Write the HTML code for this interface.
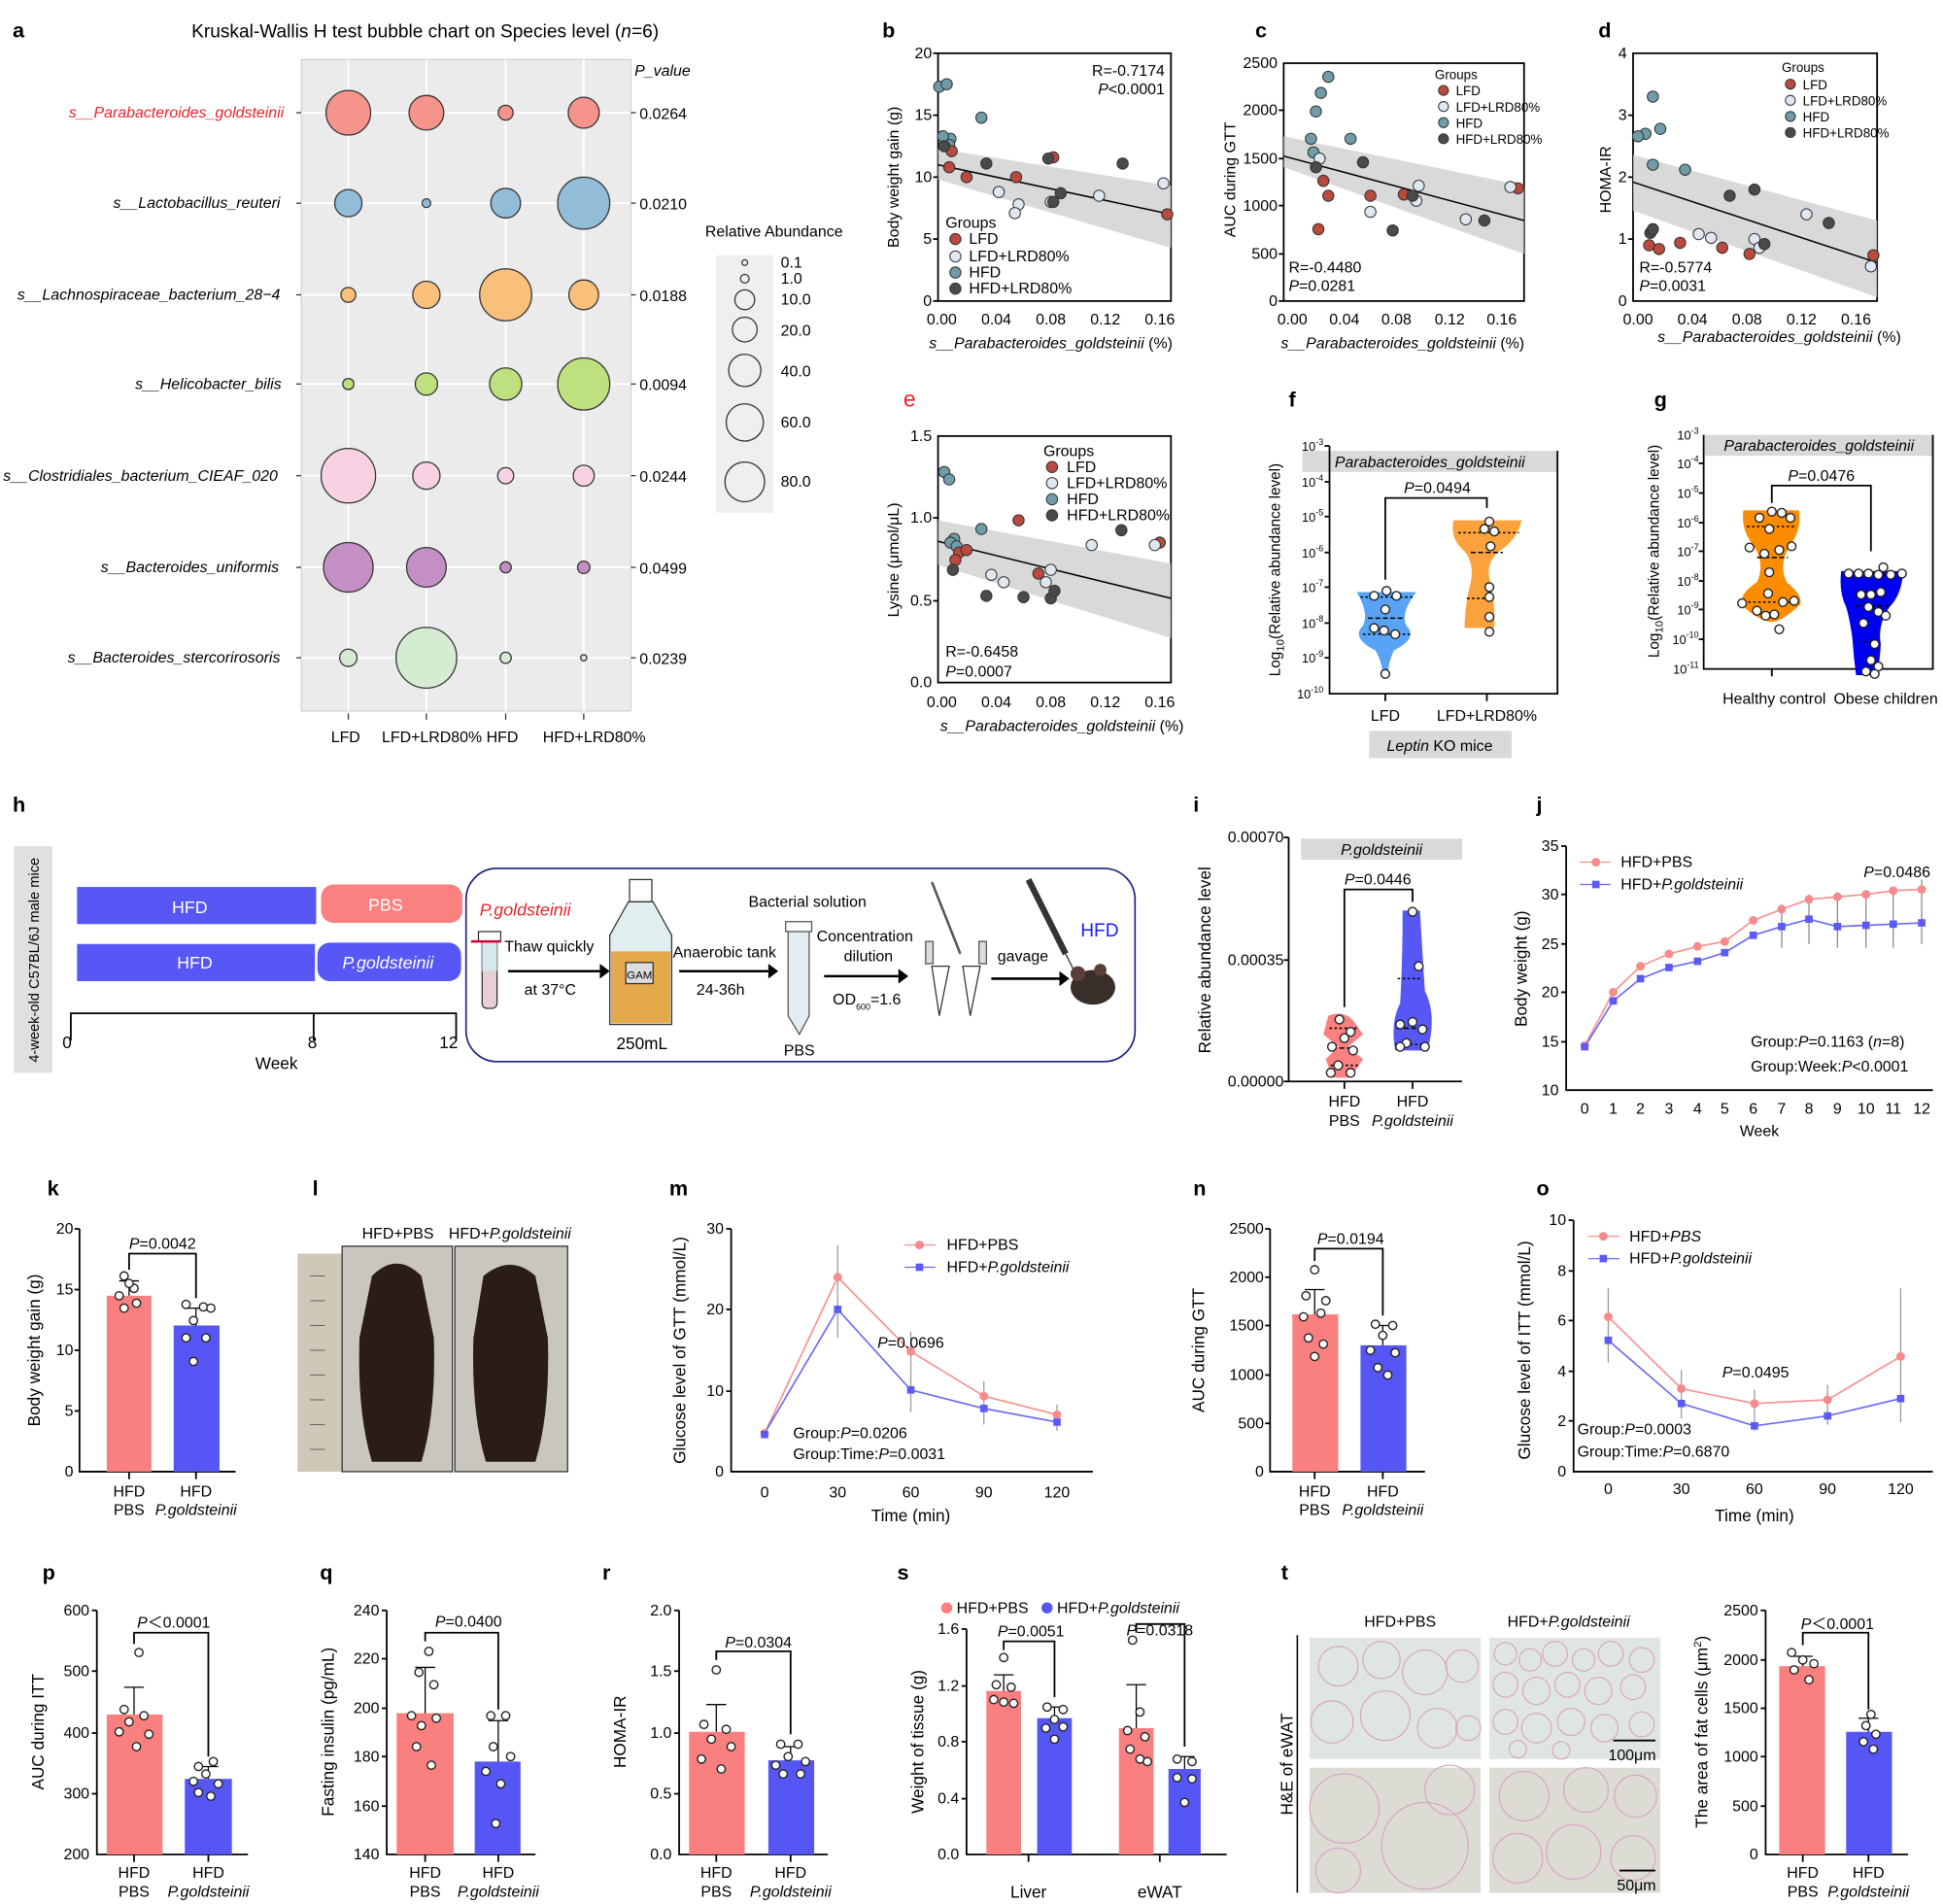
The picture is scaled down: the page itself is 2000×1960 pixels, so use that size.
<!DOCTYPE html>
<html><head><meta charset="utf-8"><style>
html,body{margin:0;padding:0;background:#fff}
svg{display:block}
text{font-family:"Liberation Sans",Arial,sans-serif;fill:#000}
.t{font-size:12.5px}
.ax{font-size:13.5px}
.pl{font-size:17px;font-weight:bold}
.i{font-style:italic}
.a{stroke:#000;stroke-width:1.4;fill:none}
.lfd{fill:#b94a3c;stroke:#333;stroke-width:.8}
.llr{fill:#dfe7f1;stroke:#333;stroke-width:.8}
.hfd{fill:#6f9ca8;stroke:#333;stroke-width:.8}
.hlr{fill:#4a4a4a;stroke:#333;stroke-width:.8}
.wd{fill:#fff;stroke:#222;stroke-width:1.1}
.bb{stroke:#333;stroke-width:1}
</style></head><body>
<svg width="2000" height="1960" viewBox="0 0 1568 1537" xmlns="http://www.w3.org/2000/svg">
<rect width="1568" height="1537" fill="#fff"/>

<!-- ===== a ===== -->
<text x="10" y="30" class="pl">a</text>
<text x="343" y="30" text-anchor="middle" style="font-size:15px">Kruskal-Wallis H test bubble chart on Species level (<tspan class="i">n</tspan>=6)</text>
<rect x="243" y="48" width="266" height="526" fill="#ebebeb" stroke="#bbb" stroke-width=".6"/>
<g stroke="#fff" stroke-width="1.5">
<line x1="281" y1="48" x2="281" y2="574"/><line x1="344" y1="48" x2="344" y2="574"/><line x1="408" y1="48" x2="408" y2="574"/><line x1="471" y1="48" x2="471" y2="574"/>
<line x1="243" y1="91" x2="509" y2="91"/><line x1="243" y1="164" x2="509" y2="164"/><line x1="243" y1="238" x2="509" y2="238"/><line x1="243" y1="310" x2="509" y2="310"/><line x1="243" y1="384" x2="509" y2="384"/><line x1="243" y1="458" x2="509" y2="458"/><line x1="243" y1="531" x2="509" y2="531"/>
</g>
<g class="bb">
<circle cx="281" cy="91" r="18" fill="#f4948a"/><circle cx="344" cy="91" r="14" fill="#f4948a"/><circle cx="408" cy="91" r="6" fill="#f4948a"/><circle cx="471" cy="91" r="12.5" fill="#f4948a"/>
<circle cx="281" cy="164" r="11" fill="#93bcd8"/><circle cx="344" cy="164" r="3.5" fill="#93bcd8"/><circle cx="408" cy="164" r="12" fill="#93bcd8"/><circle cx="471" cy="164" r="21" fill="#93bcd8"/>
<circle cx="281" cy="238" r="6" fill="#f9c07c"/><circle cx="344" cy="238" r="11" fill="#f9c07c"/><circle cx="408" cy="238" r="21" fill="#f9c07c"/><circle cx="471" cy="238" r="12" fill="#f9c07c"/>
<circle cx="281" cy="310" r="4.5" fill="#bfe07e"/><circle cx="344" cy="310" r="9" fill="#bfe07e"/><circle cx="408" cy="310" r="13" fill="#bfe07e"/><circle cx="471" cy="310" r="21" fill="#bfe07e"/>
<circle cx="281" cy="384" r="22" fill="#f8d2e2"/><circle cx="344" cy="384" r="11" fill="#f8d2e2"/><circle cx="408" cy="384" r="6.5" fill="#f8d2e2"/><circle cx="471" cy="384" r="8.5" fill="#f8d2e2"/>
<circle cx="281" cy="458" r="20" fill="#c48fc4"/><circle cx="344" cy="458" r="16" fill="#c48fc4"/><circle cx="408" cy="458" r="4.5" fill="#c48fc4"/><circle cx="471" cy="458" r="5" fill="#c48fc4"/>
<circle cx="281" cy="531" r="7" fill="#d5ecd3"/><circle cx="344" cy="531" r="24.5" fill="#d5ecd3"/><circle cx="408" cy="531" r="4.5" fill="#d5ecd3"/><circle cx="471" cy="531" r="2.5" fill="#d5ecd3"/>
</g>
<g stroke="#333" stroke-width="1">
<line x1="239" y1="91" x2="243" y2="91"/><line x1="239" y1="164" x2="243" y2="164"/><line x1="239" y1="238" x2="243" y2="238"/><line x1="239" y1="310" x2="243" y2="310"/><line x1="239" y1="384" x2="243" y2="384"/><line x1="239" y1="458" x2="243" y2="458"/><line x1="239" y1="531" x2="243" y2="531"/>
<line x1="509" y1="91" x2="513" y2="91"/><line x1="509" y1="164" x2="513" y2="164"/><line x1="509" y1="238" x2="513" y2="238"/><line x1="509" y1="310" x2="513" y2="310"/><line x1="509" y1="384" x2="513" y2="384"/><line x1="509" y1="458" x2="513" y2="458"/><line x1="509" y1="531" x2="513" y2="531"/>
<line x1="281" y1="576" x2="281" y2="581"/><line x1="344" y1="576" x2="344" y2="581"/><line x1="408" y1="576" x2="408" y2="581"/><line x1="471" y1="576" x2="471" y2="581"/>
</g>
<g class="t i" text-anchor="end">
<text x="229" y="95" fill="#e8232a" style="fill:#e8232a">s__Parabacteroides_goldsteinii</text>
<text x="226" y="168">s__Lactobacillus_reuteri</text>
<text x="226" y="242">s__Lachnospiraceae_bacterium_28−4</text>
<text x="227" y="314">s__Helicobacter_bilis</text>
<text x="224" y="388">s__Clostridiales_bacterium_CIEAF_020</text>
<text x="225" y="462">s__Bacteroides_uniformis</text>
<text x="226" y="535">s__Bacteroides_stercorirosoris</text>
</g>
<text x="512" y="61" class="t i">P_value</text>
<g class="t"><text x="516" y="96">0.0264</text><text x="516" y="169">0.0210</text><text x="516" y="243">0.0188</text><text x="516" y="315">0.0094</text><text x="516" y="389">0.0244</text><text x="516" y="463">0.0499</text><text x="516" y="536">0.0239</text></g>
<g class="t"><text x="267" y="599">LFD</text><text x="308" y="599">LFD+LRD80% HFD</text><text x="438" y="599">HFD+LRD80%</text></g>
<text x="569" y="191" class="t">Relative Abundance</text>
<rect x="578" y="206" width="46" height="208" fill="#efefef"/>
<g fill="none" stroke="#333"><circle cx="601" cy="212" r="2.3"/><circle cx="601" cy="225" r="3.5"/><circle cx="601" cy="242" r="8"/><circle cx="601" cy="266" r="10"/><circle cx="601" cy="299" r="13"/><circle cx="601" cy="341" r="15"/><circle cx="601" cy="389" r="16"/></g>
<g class="t"><text x="630" y="216">0.1</text><text x="630" y="229">1.0</text><text x="630" y="246">10.0</text><text x="630" y="271">20.0</text><text x="630" y="304">40.0</text><text x="630" y="345">60.0</text><text x="630" y="393">80.0</text></g>

<!-- ===== b ===== -->
<text x="712" y="30" class="pl">b</text>
<rect x="757" y="43" width="188" height="200" class="a"/>
<path d="M757,120 L945,150 L945,200 L757,145 Z" fill="#cfcfcf" opacity=".8"/>
<line x1="757" y1="133" x2="945" y2="173" stroke="#000" stroke-width="1.2"/>
<g class="t" text-anchor="end"><text x="752" y="247">0</text><text x="752" y="197">5</text><text x="752" y="147">10</text><text x="752" y="97">15</text><text x="752" y="47">20</text></g>
<g class="a"><line x1="753" y1="243" x2="757" y2="243"/><line x1="753" y1="193" x2="757" y2="193"/><line x1="753" y1="143" x2="757" y2="143"/><line x1="753" y1="93" x2="757" y2="93"/><line x1="753" y1="43" x2="757" y2="43"/></g>
<g class="t" text-anchor="middle"><text x="760" y="262">0.00</text><text x="804" y="262">0.04</text><text x="848" y="262">0.08</text><text x="892" y="262">0.12</text><text x="936" y="262">0.16</text></g>
<text x="848" y="281" class="t" text-anchor="middle"><tspan class="i">s__Parabacteroides_goldsteinii</tspan> (%)</text>
<text transform="translate(725,143) rotate(-90)" class="t" text-anchor="middle">Body weight gain (g)</text>
<text x="940" y="61" class="t" text-anchor="end">R=-0.7174</text>
<text x="940" y="76" class="t" text-anchor="end"><tspan class="i">P</tspan>&lt;0.0001</text>
<g>
<circle cx="758" cy="70" r="4.5" class="hfd"/><circle cx="764" cy="68" r="4.5" class="hfd"/><circle cx="767" cy="112" r="4.5" class="hfd"/><circle cx="761" cy="110" r="4.5" class="hfd"/><circle cx="792" cy="95" r="4.5" class="hfd"/><circle cx="766" cy="117" r="4.5" class="hfd"/>
<circle cx="768" cy="122" r="4.5" class="lfd"/><circle cx="766" cy="135" r="4.5" class="lfd"/><circle cx="780" cy="143" r="4.5" class="lfd"/><circle cx="820" cy="143" r="4.5" class="lfd"/><circle cx="942" cy="173" r="4.5" class="lfd"/><circle cx="850" cy="127" r="4.5" class="lfd"/>
<circle cx="806" cy="155" r="4.5" class="llr"/><circle cx="822" cy="165" r="4.5" class="llr"/><circle cx="848" cy="163" r="4.5" class="llr"/><circle cx="887" cy="158" r="4.5" class="llr"/><circle cx="939" cy="148" r="4.5" class="llr"/><circle cx="819" cy="172" r="4.5" class="llr"/>
<circle cx="762" cy="118" r="4.5" class="hlr"/><circle cx="796" cy="132" r="4.5" class="hlr"/><circle cx="846" cy="128" r="4.5" class="hlr"/><circle cx="856" cy="156" r="4.5" class="hlr"/><circle cx="906" cy="132" r="4.5" class="hlr"/><circle cx="850" cy="163" r="4.5" class="hlr"/>
</g>
<text x="763" y="184" class="t">Groups</text>
<circle cx="771" cy="193" r="4.5" class="lfd"/><text x="782" y="197" class="t">LFD</text>
<circle cx="771" cy="207" r="4.5" class="llr"/><text x="782" y="211" class="t">LFD+LRD80%</text>
<circle cx="771" cy="220" r="4.5" class="hfd"/><text x="782" y="224" class="t">HFD</text>
<circle cx="771" cy="233" r="4.5" class="hlr"/><text x="782" y="237" class="t">HFD+LRD80%</text>

<!-- ===== c ===== -->
<text x="1013" y="30" class="pl">c</text>
<rect x="1036" y="51" width="194" height="192" class="a"/>
<path d="M1036,110 L1230,150 L1230,205 L1036,135 Z" fill="#cfcfcf" opacity=".8"/>
<line x1="1036" y1="126" x2="1230" y2="178" stroke="#000" stroke-width="1.2"/>
<g class="t" text-anchor="end"><text x="1031" y="247">0</text><text x="1031" y="209">500</text><text x="1031" y="170">1000</text><text x="1031" y="132">1500</text><text x="1031" y="93">2000</text><text x="1031" y="55">2500</text></g>
<g class="a"><line x1="1032" y1="243" x2="1036" y2="243"/><line x1="1032" y1="205" x2="1036" y2="205"/><line x1="1032" y1="166" x2="1036" y2="166"/><line x1="1032" y1="128" x2="1036" y2="128"/><line x1="1032" y1="89" x2="1036" y2="89"/></g>
<g class="t" text-anchor="middle"><text x="1043" y="262">0.00</text><text x="1085" y="262">0.04</text><text x="1127" y="262">0.08</text><text x="1170" y="262">0.12</text><text x="1212" y="262">0.16</text></g>
<text x="1132" y="281" class="t" text-anchor="middle"><tspan class="i">s__Parabacteroides_goldsteinii</tspan> (%)</text>
<text transform="translate(997,145) rotate(-90)" class="t" text-anchor="middle">AUC during GTT</text>
<g>
<circle cx="1062" cy="90" r="4.5" class="hfd"/><circle cx="1066" cy="75" r="4.5" class="hfd"/><circle cx="1072" cy="62" r="4.5" class="hfd"/><circle cx="1058" cy="112" r="4.5" class="hfd"/><circle cx="1060" cy="123" r="4.5" class="hfd"/><circle cx="1090" cy="112" r="4.5" class="hfd"/>
<circle cx="1068" cy="146" r="4.5" class="lfd"/><circle cx="1072" cy="158" r="4.5" class="lfd"/><circle cx="1064" cy="185" r="4.5" class="lfd"/><circle cx="1106" cy="158" r="4.5" class="lfd"/><circle cx="1133" cy="157" r="4.5" class="lfd"/><circle cx="1225" cy="152" r="4.5" class="lfd"/>
<circle cx="1065" cy="128" r="4.5" class="llr"/><circle cx="1106" cy="171" r="4.5" class="llr"/><circle cx="1145" cy="150" r="4.5" class="llr"/><circle cx="1143" cy="162" r="4.5" class="llr"/><circle cx="1183" cy="177" r="4.5" class="llr"/><circle cx="1219" cy="151" r="4.5" class="llr"/>
<circle cx="1062" cy="135" r="4.5" class="hlr"/><circle cx="1100" cy="131" r="4.5" class="hlr"/><circle cx="1124" cy="186" r="4.5" class="hlr"/><circle cx="1140" cy="158" r="4.5" class="hlr"/><circle cx="1198" cy="178" r="4.5" class="hlr"/>
</g>
<text x="1040" y="220" class="t">R=-0.4480</text>
<text x="1040" y="235" class="t"><tspan class="i">P</tspan>=0.0281</text>
<g style="font-size:10.5px"><text x="1158" y="64">Groups</text>
<circle cx="1165" cy="73" r="4" class="lfd"/><text x="1175" y="77">LFD</text>
<circle cx="1165" cy="86" r="4" class="llr"/><text x="1175" y="90">LFD+LRD80%</text>
<circle cx="1165" cy="99" r="4" class="hfd"/><text x="1175" y="103">HFD</text>
<circle cx="1165" cy="112" r="4" class="hlr"/><text x="1175" y="116">HFD+LRD80%</text></g>

<!-- ===== d ===== -->
<text x="1290" y="30" class="pl">d</text>
<rect x="1318" y="43" width="197" height="200" class="a"/>
<path d="M1318,125 L1515,178 L1515,240 L1318,170 Z" fill="#cfcfcf" opacity=".8"/>
<line x1="1318" y1="147" x2="1515" y2="212" stroke="#000" stroke-width="1.2"/>
<g class="t" text-anchor="end"><text x="1313" y="247">0</text><text x="1313" y="197">1</text><text x="1313" y="147">2</text><text x="1313" y="97">3</text><text x="1313" y="47">4</text></g>
<g class="a"><line x1="1314" y1="193" x2="1318" y2="193"/><line x1="1314" y1="143" x2="1318" y2="143"/><line x1="1314" y1="93" x2="1318" y2="93"/></g>
<g class="t" text-anchor="middle"><text x="1322" y="262">0.00</text><text x="1366" y="262">0.04</text><text x="1410" y="262">0.08</text><text x="1454" y="262">0.12</text><text x="1498" y="262">0.16</text></g>
<text x="1436" y="276" class="t" text-anchor="middle"><tspan class="i">s__Parabacteroides_goldsteinii</tspan> (%)</text>
<text transform="translate(1300,145) rotate(-90)" class="t" text-anchor="middle">HOMA-IR</text>
<g>
<circle cx="1334" cy="78" r="4.5" class="hfd"/><circle cx="1328" cy="108" r="4.5" class="hfd"/><circle cx="1340" cy="104" r="4.5" class="hfd"/><circle cx="1334" cy="133" r="4.5" class="hfd"/><circle cx="1360" cy="137" r="4.5" class="hfd"/><circle cx="1322" cy="110" r="4.5" class="hfd"/>
<circle cx="1331" cy="198" r="4.5" class="lfd"/><circle cx="1339" cy="201" r="4.5" class="lfd"/><circle cx="1356" cy="196" r="4.5" class="lfd"/><circle cx="1390" cy="200" r="4.5" class="lfd"/><circle cx="1412" cy="205" r="4.5" class="lfd"/><circle cx="1512" cy="206" r="4.5" class="lfd"/>
<circle cx="1371" cy="189" r="4.5" class="llr"/><circle cx="1381" cy="192" r="4.5" class="llr"/><circle cx="1416" cy="193" r="4.5" class="llr"/><circle cx="1458" cy="173" r="4.5" class="llr"/><circle cx="1510" cy="215" r="4.5" class="llr"/><circle cx="1420" cy="200" r="4.5" class="llr"/>
<circle cx="1332" cy="188" r="4.5" class="hlr"/><circle cx="1334" cy="185" r="4.5" class="hlr"/><circle cx="1396" cy="158" r="4.5" class="hlr"/><circle cx="1416" cy="153" r="4.5" class="hlr"/><circle cx="1476" cy="180" r="4.5" class="hlr"/><circle cx="1424" cy="197" r="4.5" class="hlr"/>
</g>
<text x="1323" y="220" class="t">R=-0.5774</text>
<text x="1323" y="235" class="t"><tspan class="i">P</tspan>=0.0031</text>
<g style="font-size:10.5px"><text x="1438" y="58">Groups</text>
<circle cx="1445" cy="68" r="4" class="lfd"/><text x="1455" y="72">LFD</text>
<circle cx="1445" cy="81" r="4" class="llr"/><text x="1455" y="85">LFD+LRD80%</text>
<circle cx="1445" cy="94" r="4" class="hfd"/><text x="1455" y="98">HFD</text>
<circle cx="1445" cy="107" r="4" class="hlr"/><text x="1455" y="111">HFD+LRD80%</text></g>

<!-- ===== e ===== -->
<text x="729" y="328" class="pl" style="fill:#e8232a;font-weight:normal;font-size:18px">e</text>
<rect x="757" y="352" width="188" height="199" class="a"/>
<path d="M757,420 L945,455 L945,515 L757,456 Z" fill="#cfcfcf" opacity=".8"/>
<line x1="757" y1="437" x2="945" y2="483" stroke="#000" stroke-width="1.2"/>
<g class="t" text-anchor="end"><text x="752" y="555">0.0</text><text x="752" y="489">0.5</text><text x="752" y="422">1.0</text><text x="752" y="356">1.5</text></g>
<g class="a"><line x1="753" y1="485" x2="757" y2="485"/><line x1="753" y1="418" x2="757" y2="418"/></g>
<g class="t" text-anchor="middle"><text x="760" y="571">0.00</text><text x="804" y="571">0.04</text><text x="848" y="571">0.08</text><text x="892" y="571">0.12</text><text x="936" y="571">0.16</text></g>
<text x="857" y="590" class="t" text-anchor="middle"><tspan class="i">s__Parabacteroides_goldsteinii</tspan> (%)</text>
<text transform="translate(725,452) rotate(-90)" class="t" text-anchor="middle">Lysine (μmol/μL)</text>
<g>
<circle cx="762" cy="381" r="4.5" class="hfd"/><circle cx="766" cy="387" r="4.5" class="hfd"/><circle cx="792" cy="427" r="4.5" class="hfd"/><circle cx="770" cy="435" r="4.5" class="hfd"/><circle cx="767" cy="438" r="4.5" class="hfd"/><circle cx="772" cy="441" r="4.5" class="hfd"/>
<circle cx="774" cy="446" r="4.5" class="lfd"/><circle cx="771" cy="452" r="4.5" class="lfd"/><circle cx="780" cy="444" r="4.5" class="lfd"/><circle cx="822" cy="420" r="4.5" class="lfd"/><circle cx="838" cy="463" r="4.5" class="lfd"/><circle cx="936" cy="438" r="4.5" class="lfd"/>
<circle cx="800" cy="464" r="4.5" class="llr"/><circle cx="810" cy="470" r="4.5" class="llr"/><circle cx="844" cy="470" r="4.5" class="llr"/><circle cx="881" cy="440" r="4.5" class="llr"/><circle cx="932" cy="440" r="4.5" class="llr"/><circle cx="848" cy="460" r="4.5" class="llr"/>
<circle cx="769" cy="460" r="4.5" class="hlr"/><circle cx="796" cy="481" r="4.5" class="hlr"/><circle cx="826" cy="482" r="4.5" class="hlr"/><circle cx="848" cy="483" r="4.5" class="hlr"/><circle cx="905" cy="428" r="4.5" class="hlr"/><circle cx="851" cy="477" r="4.5" class="hlr"/>
</g>
<text x="763" y="530" class="t">R=-0.6458</text>
<text x="763" y="546" class="t"><tspan class="i">P</tspan>=0.0007</text>
<text x="842" y="368" class="t">Groups</text>
<circle cx="849" cy="377" r="4.5" class="lfd"/><text x="861" y="381" class="t">LFD</text>
<circle cx="849" cy="390" r="4.5" class="llr"/><text x="861" y="394" class="t">LFD+LRD80%</text>
<circle cx="849" cy="403" r="4.5" class="hfd"/><text x="861" y="407" class="t">HFD</text>
<circle cx="849" cy="416" r="4.5" class="hlr"/><text x="861" y="420" class="t">HFD+LRD80%</text>

<!-- ===== f ===== -->
<text x="1040" y="328" class="pl">f</text>
<rect x="1051" y="364" width="206" height="17" fill="#d9d9d9"/>
<text x="1154" y="377" class="t i" text-anchor="middle">Parabacteroides_goldsteinii</text>
<path d="M1073,360 L1073,560 L1257,560 L1257,364" class="a"/>
<g style="font-size:10px" text-anchor="end">
<text x="1068" y="364">10<tspan dy="-5" font-size="7">-3</tspan></text>
<text x="1068" y="393">10<tspan dy="-5" font-size="7">-4</tspan></text>
<text x="1068" y="421">10<tspan dy="-5" font-size="7">-5</tspan></text>
<text x="1068" y="450">10<tspan dy="-5" font-size="7">-6</tspan></text>
<text x="1068" y="478">10<tspan dy="-5" font-size="7">-7</tspan></text>
<text x="1068" y="507">10<tspan dy="-5" font-size="7">-8</tspan></text>
<text x="1068" y="535">10<tspan dy="-5" font-size="7">-9</tspan></text>
<text x="1068" y="564">10<tspan dy="-5" font-size="7">-10</tspan></text></g>
<g class="a"><line x1="1069" y1="360" x2="1073" y2="360"/><line x1="1069" y1="389" x2="1073" y2="389"/><line x1="1069" y1="417" x2="1073" y2="417"/><line x1="1069" y1="446" x2="1073" y2="446"/><line x1="1069" y1="474" x2="1073" y2="474"/><line x1="1069" y1="503" x2="1073" y2="503"/><line x1="1069" y1="531" x2="1073" y2="531"/><line x1="1118" y1="560" x2="1118" y2="566"/><line x1="1200" y1="560" x2="1200" y2="566"/></g>
<text transform="translate(1033,460) rotate(-90)" style="font-size:12px" text-anchor="middle">Log<tspan font-size="9" dy="3">10</tspan><tspan dy="-3">(Relative abundance level)</tspan></text>
<path d="M1095,478 L1143,478 Q1130,495 1135,505 Q1145,515 1125,525 Q1120,535 1120,547 L1116,547 Q1116,535 1110,525 Q1090,515 1100,505 Q1105,495 1095,478 Z" fill="#58a3f5"/>
<path d="M1173,420 L1228,420 Q1225,435 1210,445 Q1198,455 1203,470 Q1207,490 1206,507 L1182,507 Q1182,490 1187,470 Q1190,455 1182,445 Q1170,435 1173,420 Z" fill="#fba23c"/>
<g stroke="#000" stroke-width="1.2"><line x1="1098" y1="482" x2="1140" y2="482" stroke-dasharray="2 2"/><line x1="1104" y1="499" x2="1134" y2="499" stroke-dasharray="4 2"/><line x1="1100" y1="512" x2="1138" y2="512" stroke-dasharray="2 2"/>
<line x1="1177" y1="430" x2="1226" y2="430" stroke-dasharray="2 2"/><line x1="1187" y1="446" x2="1213" y2="446" stroke-dasharray="4 2"/><line x1="1184" y1="483" x2="1208" y2="483" stroke-dasharray="2 2"/></g>
<g class="wd"><circle cx="1109" cy="481" r="3.5"/><circle cx="1119" cy="477" r="3.5"/><circle cx="1127" cy="481" r="3.5"/><circle cx="1118" cy="492" r="3.5"/><circle cx="1109" cy="507" r="3.5"/><circle cx="1117" cy="509" r="3.5"/><circle cx="1126" cy="512" r="3.5"/><circle cx="1118" cy="544" r="3.5"/>
<circle cx="1202" cy="421" r="3.5"/><circle cx="1198" cy="427" r="3.5"/><circle cx="1206" cy="429" r="3.5"/><circle cx="1203" cy="441" r="3.5"/><circle cx="1202" cy="474" r="3.5"/><circle cx="1202" cy="482" r="3.5"/><circle cx="1202" cy="498" r="3.5"/><circle cx="1202" cy="510" r="3.5"/></g>
<path d="M1118,468 L1118,402 L1200,402 L1200,410" class="a" stroke-width="1"/>
<text x="1160" y="398" class="t" text-anchor="middle"><tspan class="i">P</tspan>=0.0494</text>
<text x="1118" y="582" class="t" text-anchor="middle">LFD</text><text x="1200" y="582" class="t" text-anchor="middle">LFD+LRD80%</text>
<rect x="1105" y="590" width="115" height="22" fill="#d9d9d9"/>
<text x="1162" y="606" class="t" text-anchor="middle"><tspan class="i">Leptin</tspan> KO mice</text>

<!-- ===== g ===== -->
<text x="1335" y="328" class="pl">g</text>
<rect x="1376" y="351" width="184" height="17" fill="#d9d9d9"/>
<text x="1468" y="364" class="t i" text-anchor="middle">Parabacteroides_goldsteinii</text>
<path d="M1375,351 L1375,540 L1560,540 L1560,351" class="a"/>
<g style="font-size:10px" text-anchor="end">
<text x="1371" y="355">10<tspan dy="-5" font-size="7">-3</tspan></text>
<text x="1371" y="378">10<tspan dy="-5" font-size="7">-4</tspan></text>
<text x="1371" y="402">10<tspan dy="-5" font-size="7">-5</tspan></text>
<text x="1371" y="426">10<tspan dy="-5" font-size="7">-6</tspan></text>
<text x="1371" y="449">10<tspan dy="-5" font-size="7">-7</tspan></text>
<text x="1371" y="473">10<tspan dy="-5" font-size="7">-8</tspan></text>
<text x="1371" y="496">10<tspan dy="-5" font-size="7">-9</tspan></text>
<text x="1371" y="520">10<tspan dy="-5" font-size="7">-10</tspan></text>
<text x="1371" y="544">10<tspan dy="-5" font-size="7">-11</tspan></text></g>
<g class="a"><line x1="1371" y1="374" x2="1375" y2="374"/><line x1="1371" y1="398" x2="1375" y2="398"/><line x1="1371" y1="422" x2="1375" y2="422"/><line x1="1371" y1="445" x2="1375" y2="445"/><line x1="1371" y1="469" x2="1375" y2="469"/><line x1="1371" y1="492" x2="1375" y2="492"/><line x1="1371" y1="516" x2="1375" y2="516"/><line x1="1430" y1="540" x2="1430" y2="546"/><line x1="1510" y1="540" x2="1510" y2="546"/></g>
<text transform="translate(1339,445) rotate(-90)" style="font-size:12px" text-anchor="middle">Log<tspan font-size="9" dy="3">10</tspan><tspan dy="-3">(Relative abundance level)</tspan></text>
<path d="M1407,412 L1452,412 Q1454,428 1445,440 Q1435,455 1442,470 Q1455,480 1453,488 Q1440,500 1432,502 L1428,502 Q1418,500 1405,488 Q1405,478 1418,470 Q1425,455 1415,440 Q1405,428 1407,412 Z" fill="#fb8c00"/>
<path d="M1486,461 L1536,461 Q1535,480 1525,490 Q1515,505 1518,520 Q1517,535 1515,545 L1498,545 Q1496,530 1495,515 Q1493,500 1490,490 Q1484,478 1486,461 Z" fill="#0000f0"/>
<g stroke="#000" stroke-width="1.2"><line x1="1410" y1="425" x2="1450" y2="425" stroke-dasharray="2 2"/><line x1="1418" y1="450" x2="1443" y2="450" stroke-dasharray="4 2"/><line x1="1407" y1="486" x2="1452" y2="486" stroke-dasharray="2 2"/>
<line x1="1488" y1="464" x2="1534" y2="464" stroke-dasharray="2 2"/><line x1="1497" y1="489" x2="1527" y2="489" stroke-dasharray="4 2"/><line x1="1505" y1="518" x2="1512" y2="518" stroke-dasharray="2 2"/></g>
<g class="wd"><circle cx="1430" cy="413" r="3.5"/><circle cx="1420" cy="418" r="3.5"/><circle cx="1438" cy="414" r="3.5"/><circle cx="1445" cy="418" r="3.5"/><circle cx="1428" cy="427" r="3.5"/><circle cx="1412" cy="442" r="3.5"/><circle cx="1424" cy="447" r="3.5"/><circle cx="1436" cy="444" r="3.5"/><circle cx="1446" cy="441" r="3.5"/><circle cx="1428" cy="462" r="3.5"/><circle cx="1427" cy="479" r="3.5"/><circle cx="1406" cy="487" r="3.5"/><circle cx="1418" cy="493" r="3.5"/><circle cx="1425" cy="497" r="3.5"/><circle cx="1432" cy="496" r="3.5"/><circle cx="1439" cy="486" r="3.5"/><circle cx="1448" cy="485" r="3.5"/><circle cx="1436" cy="508" r="3.5"/>
<circle cx="1492" cy="463" r="3.5"/><circle cx="1500" cy="463" r="3.5"/><circle cx="1508" cy="463" r="3.5"/><circle cx="1516" cy="464" r="3.5"/><circle cx="1526" cy="464" r="3.5"/><circle cx="1535" cy="463" r="3.5"/><circle cx="1520" cy="458" r="3.5"/><circle cx="1502" cy="480" r="3.5"/><circle cx="1510" cy="480" r="3.5"/><circle cx="1518" cy="478" r="3.5"/><circle cx="1508" cy="490" r="3.5"/><circle cx="1516" cy="494" r="3.5"/><circle cx="1522" cy="497" r="3.5"/><circle cx="1504" cy="503" r="3.5"/><circle cx="1513" cy="520" r="3.5"/><circle cx="1510" cy="533" r="3.5"/><circle cx="1516" cy="538" r="3.5"/><circle cx="1506" cy="542" r="3.5"/><circle cx="1513" cy="544" r="3.5"/></g>
<path d="M1430,406 L1430,392 L1510,392 L1510,445" class="a" stroke-width="1"/>
<text x="1470" y="388" class="t" text-anchor="middle"><tspan class="i">P</tspan>=0.0476</text>
<text x="1432" y="568" class="t" text-anchor="middle">Healthy control</text><text x="1522" y="568" class="t" text-anchor="middle">Obese children</text>

<!-- ===== h ===== -->
<text x="10" y="655" class="pl">h</text>
<rect x="11" y="683" width="31" height="183" fill="#e0e0e0"/>
<text transform="translate(31,775) rotate(-90)" style="font-size:11.5px" text-anchor="middle">4-week-old C57BL/6J male mice</text>
<rect x="62" y="716" width="193" height="30" fill="#5757f5"/><text x="153" y="737" text-anchor="middle" style="font-size:14px;fill:#fff">HFD</text>
<rect x="259" y="714" width="114" height="31" rx="10" fill="#fb8080"/><text x="311" y="735" text-anchor="middle" style="font-size:14px;fill:#fff">PBS</text>
<rect x="62" y="762" width="192" height="30" fill="#5757f5"/><text x="157" y="782" text-anchor="middle" style="font-size:14px;fill:#fff">HFD</text>
<rect x="256" y="761" width="116" height="31" rx="10" fill="#5757f5"/><text x="313" y="782" text-anchor="middle" class="i" style="font-size:14px;fill:#fff">P.goldsteinii</text>
<path d="M57,840 L57,818 L368,818 L368,840 M253,818 L253,840" class="a"/>
<text x="54" y="846" class="ax" text-anchor="middle">0</text><text x="252" y="846" class="ax" text-anchor="middle">8</text><text x="362" y="846" class="ax" text-anchor="middle">12</text>
<text x="223" y="863" class="ax" text-anchor="middle">Week</text>
<rect x="376" y="701" width="540" height="156" rx="25" fill="none" stroke="#1a237e" stroke-width="1.3"/>
<text x="387" y="739" class="i" style="font-size:14px;fill:#e8232a">P.goldsteinii</text>
<rect x="389" y="754" width="12" height="60" rx="4" fill="#e6d0d6" stroke="#333"/><rect x="389" y="754" width="12" height="30" fill="#d7e7ec"/><rect x="386" y="752" width="18" height="8" fill="#fff" stroke="#333"/><line x1="380" y1="760" x2="404" y2="760" stroke="#c03" stroke-width="2"/>
<text x="407" y="768" class="t">Thaw quickly</text><text x="423" y="803" class="t">at 37°C</text>
<line x1="410" y1="784" x2="484" y2="784" stroke="#000" stroke-width="2"/><path d="M484,778 L492,784 L484,790Z"/>
<rect x="508" y="710" width="18" height="18" fill="#fff" stroke="#333"/><path d="M507,728 L527,728 L542,755 L542,827 L492,827 L492,755 Z" fill="#e0eef0" stroke="#333"/><rect x="493" y="768" width="48" height="58" fill="#e3a94a"/><rect x="505" y="777" width="22" height="17" fill="#ddd" stroke="#333"/><text x="516" y="790" text-anchor="middle" style="font-size:9px">GAM</text>
<text x="518" y="847" class="ax" text-anchor="middle">250mL</text>
<text x="543" y="773" class="t">Anaerobic tank</text><text x="562" y="803" class="t">24-36h</text>
<line x1="548" y1="784" x2="620" y2="784" stroke="#000" stroke-width="2"/><path d="M620,778 L628,784 L620,790Z"/>
<text x="604" y="732" class="t">Bacterial solution</text>
<path d="M636,748 L653,748 L653,820 L645,835 L636,820 Z" fill="#e3eef2" stroke="#555"/><rect x="634" y="744" width="21" height="8" fill="#fff" stroke="#555"/>
<text x="645" y="852" class="t" text-anchor="middle">PBS</text>
<text x="659" y="760" class="t">Concentration</text><text x="681" y="776" class="t">dilution</text>
<text x="672" y="811" class="t">OD<tspan font-size="7" dy="4">600</tspan><tspan dy="-4">=1.6</tspan></text>
<line x1="665" y1="788" x2="725" y2="788" stroke="#000" stroke-width="2"/><path d="M725,782 L733,788 L725,794Z"/>
<path d="M752,780 L758,820 L766,780 Z M777,780 L783,820 L791,780 Z" fill="#fff" stroke="#333"/><line x1="752" y1="712" x2="775" y2="770" stroke="#555" stroke-width="2"/><rect x="747" y="760" width="6" height="18" fill="#ddd" stroke="#555"/><rect x="790" y="760" width="6" height="18" fill="#ddd" stroke="#555"/>
<text x="805" y="776" class="t">gavage</text>
<line x1="800" y1="790" x2="855" y2="790" stroke="#000" stroke-width="2"/><path d="M855,784 L863,790 L855,796Z"/>
<line x1="830" y1="710" x2="860" y2="770" stroke="#333" stroke-width="5"/><line x1="860" y1="770" x2="866" y2="782" stroke="#333"/>
<text x="872" y="756" style="font-size:15px;fill:#1a1aff">HFD</text>
<ellipse cx="882" cy="797" rx="18" ry="14" fill="#3a2e2a"/><circle cx="870" cy="786" r="6" fill="#5a3e3a"/><circle cx="888" cy="783" r="5" fill="#5a3e3a"/>

<!-- ===== i ===== -->
<text x="963" y="655" class="pl">i</text>
<path d="M1040,676 L1040,873 L1180,873" class="a"/>
<rect x="1050" y="677" width="130" height="17" fill="#d9d9d9"/><text x="1115" y="690" class="t i" text-anchor="middle">P.goldsteinii</text>
<g class="t" text-anchor="end"><text x="1036" y="680">0.00070</text><text x="1036" y="779">0.00035</text><text x="1036" y="877">0.00000</text></g>
<g class="a"><line x1="1036" y1="676" x2="1040" y2="676"/><line x1="1036" y1="775" x2="1040" y2="775"/><line x1="1036" y1="873" x2="1040" y2="873"/><line x1="1085" y1="873" x2="1085" y2="879"/><line x1="1140" y1="873" x2="1140" y2="879"/></g>
<text transform="translate(977,775) rotate(-90)" class="ax" text-anchor="middle">Relative abundance level</text>
<path d="M1072,820 Q1085,815 1093,825 L1100,835 L1088,845 L1100,855 L1090,870 L1075,870 L1070,855 L1080,845 L1068,835 Z" fill="#fb8080"/>
<path d="M1132,735 L1146,735 Q1148,770 1150,800 Q1160,820 1152,848 L1126,848 Q1122,825 1130,810 Q1132,775 1132,735 Z" fill="#5757f5"/>
<g stroke="#000" stroke-width="1.2" stroke-dasharray="2 2"><line x1="1073" y1="830" x2="1097" y2="830"/><line x1="1075" y1="846" x2="1095" y2="846" stroke-dasharray="4 2"/><line x1="1074" y1="860" x2="1096" y2="860"/><line x1="1128" y1="790" x2="1148" y2="790"/><line x1="1127" y1="830" x2="1152" y2="830" stroke-dasharray="4 2"/><line x1="1126" y1="843" x2="1152" y2="843"/></g>
<g class="wd"><circle cx="1081" cy="823" r="3.5"/><circle cx="1090" cy="833" r="3.5"/><circle cx="1075" cy="845" r="3.5"/><circle cx="1092" cy="848" r="3.5"/><circle cx="1080" cy="860" r="3.5"/><circle cx="1090" cy="866" r="3.5"/><circle cx="1074" cy="866" r="3.5"/><circle cx="1085" cy="838" r="3.5"/>
<circle cx="1140" cy="736" r="3.5"/><circle cx="1145" cy="780" r="3.5"/><circle cx="1130" cy="827" r="3.5"/><circle cx="1148" cy="831" r="3.5"/><circle cx="1135" cy="842" r="3.5"/><circle cx="1150" cy="845" r="3.5"/><circle cx="1130" cy="845" r="3.5"/><circle cx="1140" cy="825" r="3.5"/></g>
<path d="M1085,813 L1085,718 L1140,718 L1140,728" class="a" stroke-width="1"/>
<text x="1112" y="714" class="t" text-anchor="middle"><tspan class="i">P</tspan>=0.0446</text>
<g class="t" text-anchor="middle"><text x="1085" y="893">HFD</text><text x="1085" y="909">PBS</text><text x="1140" y="893">HFD</text><text x="1140" y="909" class="i">P.goldsteinii</text></g>

<!-- ===== j ===== -->
<text x="1240" y="655" class="pl">j</text>
<path d="M1264,683 L1264,880 L1560,880" class="a"/>
<g class="t" text-anchor="end"><text x="1258" y="884">10</text><text x="1258" y="845">15</text><text x="1258" y="805">20</text><text x="1258" y="766">25</text><text x="1258" y="726">30</text><text x="1258" y="687">35</text></g>
<g class="a"><line x1="1260" y1="841" x2="1264" y2="841"/><line x1="1260" y1="801" x2="1264" y2="801"/><line x1="1260" y1="762" x2="1264" y2="762"/><line x1="1260" y1="722" x2="1264" y2="722"/><line x1="1260" y1="683" x2="1264" y2="683"/></g>
<g class="t" text-anchor="middle"><text x="1279" y="899">0</text><text x="1302" y="899">1</text><text x="1324" y="899">2</text><text x="1347" y="899">3</text><text x="1370" y="899">4</text><text x="1392" y="899">5</text><text x="1415" y="899">6</text><text x="1438" y="899">7</text><text x="1460" y="899">8</text><text x="1483" y="899">9</text><text x="1506" y="899">10</text><text x="1528" y="899">11</text><text x="1551" y="899">12</text></g>
<text x="1420" y="917" class="t" text-anchor="middle">Week</text>
<text transform="translate(1232,782) rotate(-90)" class="ax" text-anchor="middle">Body weight (g)</text>
<polyline points="1279,844 1302,801 1324,780 1347,770 1370,764 1392,760 1415,743 1438,734 1460,726 1483,724 1506,722 1528,719 1551,718" fill="none" stroke="#f79090" stroke-width="1.3"/>
<polyline points="1279,845 1302,808 1324,790 1347,781 1370,776 1392,769 1415,755 1438,748 1460,742 1483,748 1506,747 1528,746 1551,745" fill="none" stroke="#6a6af5" stroke-width="1.3"/>
<g stroke="#888" stroke-width="1"><line x1="1460" y1="722" x2="1460" y2="762"/><line x1="1438" y1="730" x2="1438" y2="765"/><line x1="1551" y1="710" x2="1551" y2="762"/><line x1="1483" y1="720" x2="1483" y2="765"/><line x1="1506" y1="720" x2="1506" y2="765"/><line x1="1528" y1="716" x2="1528" y2="765"/></g>
<g fill="#f78a8a"><circle cx="1279" cy="844" r="3.5"/><circle cx="1302" cy="801" r="3.5"/><circle cx="1324" cy="780" r="3.5"/><circle cx="1347" cy="770" r="3.5"/><circle cx="1370" cy="764" r="3.5"/><circle cx="1392" cy="760" r="3.5"/><circle cx="1415" cy="743" r="3.5"/><circle cx="1438" cy="734" r="3.5"/><circle cx="1460" cy="726" r="3.5"/><circle cx="1483" cy="724" r="3.5"/><circle cx="1506" cy="722" r="3.5"/><circle cx="1528" cy="719" r="3.5"/><circle cx="1551" cy="718" r="3.5"/></g>
<g fill="#5a5af5"><rect x="1276" y="842" width="6" height="6"/><rect x="1299" y="805" width="6" height="6"/><rect x="1321" y="787" width="6" height="6"/><rect x="1344" y="778" width="6" height="6"/><rect x="1367" y="773" width="6" height="6"/><rect x="1389" y="766" width="6" height="6"/><rect x="1412" y="752" width="6" height="6"/><rect x="1435" y="745" width="6" height="6"/><rect x="1457" y="739" width="6" height="6"/><rect x="1480" y="745" width="6" height="6"/><rect x="1503" y="744" width="6" height="6"/><rect x="1525" y="743" width="6" height="6"/><rect x="1548" y="742" width="6" height="6"/></g>
<line x1="1275" y1="696" x2="1300" y2="696" stroke="#f79090"/><circle cx="1288" cy="696" r="3.5" fill="#f78a8a"/><text x="1308" y="700" class="t">HFD+PBS</text>
<line x1="1275" y1="714" x2="1300" y2="714" stroke="#6a6af5"/><rect x="1285" y="711" width="6" height="6" fill="#5a5af5"/><text x="1308" y="718" class="t">HFD+<tspan class="i">P.goldsteinii</tspan></text>
<text x="1558" y="708" class="t" text-anchor="end"><tspan class="i">P</tspan>=0.0486</text>
<text x="1413" y="845" class="t">Group:<tspan class="i">P</tspan>=0.1163 (<tspan class="i">n</tspan>=8)</text>
<text x="1413" y="865" class="t">Group:Week:<tspan class="i">P</tspan>&lt;0.0001</text>

<!-- ===== k ===== -->
<text x="38" y="965" class="pl">k</text>
<path d="M64,992 L64,1188 L190,1188" class="a"/>
<g class="t" text-anchor="end"><text x="59" y="1192">0</text><text x="59" y="1143">5</text><text x="59" y="1094">10</text><text x="59" y="1045">15</text><text x="59" y="996">20</text></g>
<g class="a"><line x1="60" y1="1139" x2="64" y2="1139"/><line x1="60" y1="1090" x2="64" y2="1090"/><line x1="60" y1="1041" x2="64" y2="1041"/><line x1="60" y1="992" x2="64" y2="992"/></g>
<text transform="translate(32,1090) rotate(-90)" class="ax" text-anchor="middle">Body weight gain (g)</text>
<rect x="86" y="1046" width="36" height="142" fill="#fa7f7f"/><rect x="140" y="1070" width="37" height="118" fill="#5656f5"/>
<path d="M104,1046 L104,1034 M96,1034 L112,1034 M158,1070 L158,1056 M150,1056 L166,1056" stroke="#000"/>
<g class="wd"><circle cx="100" cy="1030" r="3.3"/><circle cx="108" cy="1040" r="3.3"/><circle cx="96" cy="1046" r="3.3"/><circle cx="110" cy="1052" r="3.3"/><circle cx="100" cy="1056" r="3.3"/><circle cx="104" cy="1036" r="3.3"/><circle cx="150" cy="1053" r="3.3"/><circle cx="164" cy="1055" r="3.3"/><circle cx="156" cy="1066" r="3.3"/><circle cx="150" cy="1080" r="3.3"/><circle cx="166" cy="1080" r="3.3"/><circle cx="156" cy="1099" r="3.3"/><circle cx="170" cy="1056" r="3.3"/></g>
<path d="M104,1025 L104,1012 L158,1012 L158,1048" class="a" stroke-width="1"/>
<text x="131" y="1008" class="t" text-anchor="middle"><tspan class="i">P</tspan>=0.0042</text>
<g class="a"><line x1="104" y1="1188" x2="104" y2="1194"/><line x1="158" y1="1188" x2="158" y2="1194"/></g>
<g class="t" text-anchor="middle"><text x="104" y="1208">HFD</text><text x="104" y="1223">PBS</text><text x="158" y="1208">HFD</text><text x="158" y="1223" class="i">P.goldsteinii</text></g>

<!-- ===== l ===== -->
<text x="252" y="965" class="pl">l</text>
<text x="292" y="1000" class="t">HFD+PBS</text><text x="362" y="1000" class="t">HFD+<tspan class="i">P.goldsteinii</tspan></text>
<rect x="240" y="1012" width="36" height="176" fill="#cfc7b8"/>
<g stroke="#666" stroke-width=".8"><line x1="250" y1="1030" x2="262" y2="1030"/><line x1="250" y1="1050" x2="262" y2="1050"/><line x1="250" y1="1070" x2="262" y2="1070"/><line x1="250" y1="1090" x2="262" y2="1090"/><line x1="250" y1="1110" x2="262" y2="1110"/><line x1="250" y1="1130" x2="262" y2="1130"/><line x1="250" y1="1150" x2="262" y2="1150"/><line x1="250" y1="1170" x2="262" y2="1170"/></g>
<rect x="276" y="1006" width="89" height="182" fill="#c9c6bf" stroke="#333"/>
<rect x="367" y="1006" width="91" height="182" fill="#c9c6bf" stroke="#333"/>
<path d="M300,1030 Q320,1010 340,1030 L350,1080 Q352,1140 340,1180 L300,1180 Q288,1140 290,1080 Z" fill="#2a1c18"/>
<path d="M390,1030 Q412,1012 432,1030 L442,1080 Q444,1140 432,1180 L392,1180 Q380,1140 382,1080 Z" fill="#2a1c18"/>

<!-- ===== m ===== -->
<text x="540" y="965" class="pl">m</text>
<path d="M590,992 L590,1188 L882,1188" class="a"/>
<g class="t" text-anchor="end"><text x="584" y="1192">0</text><text x="584" y="1127">10</text><text x="584" y="1061">20</text><text x="584" y="996">30</text></g>
<g class="a"><line x1="586" y1="1123" x2="590" y2="1123"/><line x1="586" y1="1057" x2="590" y2="1057"/><line x1="586" y1="992" x2="590" y2="992"/></g>
<g class="t" text-anchor="middle"><text x="617" y="1209">0</text><text x="676" y="1209">30</text><text x="735" y="1209">60</text><text x="794" y="1209">90</text><text x="853" y="1209">120</text></g>
<text x="735" y="1228" class="ax" text-anchor="middle">Time (min)</text>
<text transform="translate(553,1090) rotate(-90)" class="ax" text-anchor="middle">Glucose level of GTT (mmol/L)</text>
<polyline points="617,1157 676,1031 735,1091 794,1127 853,1142" fill="none" stroke="#f79090" stroke-width="1.3"/>
<polyline points="617,1157 676,1057 735,1122 794,1137 853,1148" fill="none" stroke="#6a6af5" stroke-width="1.3"/>
<g stroke="#999"><line x1="676" y1="1005" x2="676" y2="1080"/><line x1="735" y1="1075" x2="735" y2="1140"/><line x1="794" y1="1115" x2="794" y2="1150"/><line x1="853" y1="1134" x2="853" y2="1155"/></g>
<g fill="#f78a8a"><circle cx="617" cy="1157" r="3.5"/><circle cx="676" cy="1031" r="3.5"/><circle cx="735" cy="1091" r="3.5"/><circle cx="794" cy="1127" r="3.5"/><circle cx="853" cy="1142" r="3.5"/></g>
<g fill="#5a5af5"><rect x="614" y="1155" width="6" height="6"/><rect x="673" y="1054" width="6" height="6"/><rect x="732" y="1119" width="6" height="6"/><rect x="791" y="1134" width="6" height="6"/><rect x="850" y="1145" width="6" height="6"/></g>
<line x1="730" y1="1005" x2="755" y2="1005" stroke="#f79090"/><circle cx="742" cy="1005" r="3.5" fill="#f78a8a"/><text x="764" y="1009" class="t">HFD+PBS</text>
<line x1="730" y1="1023" x2="755" y2="1023" stroke="#6a6af5"/><rect x="739" y="1020" width="6" height="6" fill="#5a5af5"/><text x="764" y="1027" class="t">HFD+<tspan class="i">P.goldsteinii</tspan></text>
<text x="708" y="1088" class="t"><tspan class="i">P</tspan>=0.0696</text>
<text x="640" y="1161" class="t">Group:<tspan class="i">P</tspan>=0.0206</text>
<text x="640" y="1178" class="t">Group:Time:<tspan class="i">P</tspan>=0.0031</text>

<!-- ===== n ===== -->
<text x="963" y="965" class="pl">n</text>
<path d="M1025,992 L1025,1188 L1150,1188" class="a"/>
<g class="t" text-anchor="end"><text x="1020" y="1192">0</text><text x="1020" y="1153">500</text><text x="1020" y="1114">1000</text><text x="1020" y="1074">1500</text><text x="1020" y="1035">2000</text><text x="1020" y="996">2500</text></g>
<g class="a"><line x1="1021" y1="1149" x2="1025" y2="1149"/><line x1="1021" y1="1110" x2="1025" y2="1110"/><line x1="1021" y1="1070" x2="1025" y2="1070"/><line x1="1021" y1="1031" x2="1025" y2="1031"/><line x1="1021" y1="992" x2="1025" y2="992"/></g>
<text transform="translate(972,1090) rotate(-90)" class="ax" text-anchor="middle">AUC during GTT</text>
<rect x="1043" y="1061" width="37" height="127" fill="#fa7f7f"/><rect x="1098" y="1086" width="37" height="102" fill="#5656f5"/>
<path d="M1061,1061 L1061,1041 M1053,1041 L1069,1041 M1116,1086 L1116,1070 M1108,1070 L1124,1070" stroke="#000"/>
<g class="wd"><circle cx="1061" cy="1025" r="3.3"/><circle cx="1054" cy="1046" r="3.3"/><circle cx="1070" cy="1050" r="3.3"/><circle cx="1052" cy="1063" r="3.3"/><circle cx="1066" cy="1060" r="3.3"/><circle cx="1056" cy="1080" r="3.3"/><circle cx="1068" cy="1085" r="3.3"/><circle cx="1061" cy="1095" r="3.3"/><circle cx="1110" cy="1069" r="3.3"/><circle cx="1124" cy="1070" r="3.3"/><circle cx="1116" cy="1078" r="3.3"/><circle cx="1106" cy="1090" r="3.3"/><circle cx="1126" cy="1092" r="3.3"/><circle cx="1112" cy="1104" r="3.3"/><circle cx="1120" cy="1110" r="3.3"/></g>
<path d="M1061,1018 L1061,1008 L1116,1008 L1116,1062" class="a" stroke-width="1"/>
<text x="1090" y="1004" class="t" text-anchor="middle"><tspan class="i">P</tspan>=0.0194</text>
<g class="a"><line x1="1061" y1="1188" x2="1061" y2="1194"/><line x1="1116" y1="1188" x2="1116" y2="1194"/></g>
<g class="t" text-anchor="middle"><text x="1061" y="1208">HFD</text><text x="1061" y="1223">PBS</text><text x="1116" y="1208">HFD</text><text x="1116" y="1223" class="i">P.goldsteinii</text></g>

<!-- ===== o ===== -->
<text x="1240" y="965" class="pl">o</text>
<path d="M1270,985 L1270,1188 L1560,1188" class="a"/>
<g class="t" text-anchor="end"><text x="1264" y="1192">0</text><text x="1264" y="1151">2</text><text x="1264" y="1111">4</text><text x="1264" y="1070">6</text><text x="1264" y="1030">8</text><text x="1264" y="989">10</text></g>
<g class="a"><line x1="1266" y1="1147" x2="1270" y2="1147"/><line x1="1266" y1="1107" x2="1270" y2="1107"/><line x1="1266" y1="1066" x2="1270" y2="1066"/><line x1="1266" y1="1026" x2="1270" y2="1026"/><line x1="1266" y1="985" x2="1270" y2="985"/></g>
<g class="t" text-anchor="middle"><text x="1298" y="1206">0</text><text x="1357" y="1206">30</text><text x="1416" y="1206">60</text><text x="1475" y="1206">90</text><text x="1534" y="1206">120</text></g>
<text x="1416" y="1228" class="ax" text-anchor="middle">Time (min)</text>
<text transform="translate(1235,1090) rotate(-90)" class="ax" text-anchor="middle">Glucose level of ITT (mmol/L)</text>
<polyline points="1298,1063 1357,1121 1416,1133 1475,1130 1534,1095" fill="none" stroke="#f79090" stroke-width="1.3"/>
<polyline points="1298,1082 1357,1133 1416,1151 1475,1143 1534,1129" fill="none" stroke="#6a6af5" stroke-width="1.3"/>
<g stroke="#999"><line x1="1298" y1="1040" x2="1298" y2="1100"/><line x1="1357" y1="1106" x2="1357" y2="1145"/><line x1="1416" y1="1122" x2="1416" y2="1155"/><line x1="1475" y1="1118" x2="1475" y2="1150"/><line x1="1534" y1="1040" x2="1534" y2="1148"/></g>
<g fill="#f78a8a"><circle cx="1298" cy="1063" r="3.5"/><circle cx="1357" cy="1121" r="3.5"/><circle cx="1416" cy="1133" r="3.5"/><circle cx="1475" cy="1130" r="3.5"/><circle cx="1534" cy="1095" r="3.5"/></g>
<g fill="#5a5af5"><rect x="1295" y="1079" width="6" height="6"/><rect x="1354" y="1130" width="6" height="6"/><rect x="1413" y="1148" width="6" height="6"/><rect x="1472" y="1140" width="6" height="6"/><rect x="1531" y="1126" width="6" height="6"/></g>
<line x1="1282" y1="998" x2="1307" y2="998" stroke="#f79090"/><circle cx="1294" cy="998" r="3.5" fill="#f78a8a"/><text x="1315" y="1002" class="t">HFD+<tspan class="i">PBS</tspan></text>
<line x1="1282" y1="1016" x2="1307" y2="1016" stroke="#6a6af5"/><rect x="1291" y="1013" width="6" height="6" fill="#5a5af5"/><text x="1315" y="1020" class="t">HFD+<tspan class="i">P.goldsteinii</tspan></text>
<text x="1390" y="1112" class="t"><tspan class="i">P</tspan>=0.0495</text>
<text x="1273" y="1158" class="t">Group:<tspan class="i">P</tspan>=0.0003</text>
<text x="1273" y="1176" class="t">Group:Time:<tspan class="i">P</tspan>=0.6870</text>

<!-- ===== p ===== -->
<text x="34" y="1275" class="pl">p</text>
<path d="M78,1300 L78,1497 L200,1497" class="a"/>
<g class="t" text-anchor="end"><text x="72" y="1501">200</text><text x="72" y="1452">300</text><text x="72" y="1403">400</text><text x="72" y="1353">500</text><text x="72" y="1304">600</text></g>
<g class="a"><line x1="74" y1="1448" x2="78" y2="1448"/><line x1="74" y1="1399" x2="78" y2="1399"/><line x1="74" y1="1349" x2="78" y2="1349"/><line x1="74" y1="1300" x2="78" y2="1300"/></g>
<text transform="translate(35,1398) rotate(-90)" class="ax" text-anchor="middle">AUC during ITT</text>
<rect x="86" y="1384" width="45" height="113" fill="#fa7f7f"/><rect x="149" y="1436" width="38" height="61" fill="#5656f5"/>
<path d="M108,1384 L108,1362 M100,1362 L116,1362 M168,1436 L168,1426 M160,1426 L176,1426" stroke="#000"/>
<g class="wd"><circle cx="112" cy="1334" r="3.3"/><circle cx="100" cy="1380" r="3.3"/><circle cx="116" cy="1385" r="3.3"/><circle cx="104" cy="1390" r="3.3"/><circle cx="96" cy="1398" r="3.3"/><circle cx="120" cy="1400" r="3.3"/><circle cx="110" cy="1410" r="3.3"/><circle cx="160" cy="1426" r="3.3"/><circle cx="172" cy="1422" r="3.3"/><circle cx="166" cy="1432" r="3.3"/><circle cx="156" cy="1438" r="3.3"/><circle cx="176" cy="1440" r="3.3"/><circle cx="160" cy="1447" r="3.3"/><circle cx="170" cy="1450" r="3.3"/></g>
<path d="M108,1327 L108,1318 L168,1318 L168,1418" class="a" stroke-width="1"/>
<text x="140" y="1314" class="t" text-anchor="middle"><tspan class="i">P</tspan>＜0.0001</text>
<g class="a"><line x1="108" y1="1497" x2="108" y2="1503"/><line x1="168" y1="1497" x2="168" y2="1503"/></g>
<g class="t" text-anchor="middle"><text x="108" y="1516">HFD</text><text x="108" y="1531">PBS</text><text x="168" y="1516">HFD</text><text x="168" y="1531" class="i">P.goldsteinii</text></g>

<!-- ===== q ===== -->
<text x="258" y="1275" class="pl">q</text>
<path d="M312,1300 L312,1497 L432,1497" class="a"/>
<g class="t" text-anchor="end"><text x="306" y="1501">140</text><text x="306" y="1462">160</text><text x="306" y="1422">180</text><text x="306" y="1383">200</text><text x="306" y="1343">220</text><text x="306" y="1304">240</text></g>
<g class="a"><line x1="308" y1="1458" x2="312" y2="1458"/><line x1="308" y1="1418" x2="312" y2="1418"/><line x1="308" y1="1379" x2="312" y2="1379"/><line x1="308" y1="1339" x2="312" y2="1339"/><line x1="308" y1="1300" x2="312" y2="1300"/></g>
<text transform="translate(269,1398) rotate(-90)" class="ax" text-anchor="middle">Fasting insulin (pg/mL)</text>
<rect x="320" y="1383" width="46" height="114" fill="#fa7f7f"/><rect x="383" y="1422" width="37" height="75" fill="#5656f5"/>
<path d="M343,1383 L343,1346 M335,1346 L351,1346 M402,1422 L402,1389 M394,1389 L410,1389" stroke="#000"/>
<g class="wd"><circle cx="346" cy="1333" r="3.3"/><circle cx="338" cy="1350" r="3.3"/><circle cx="350" cy="1360" r="3.3"/><circle cx="332" cy="1385" r="3.3"/><circle cx="352" cy="1387" r="3.3"/><circle cx="340" cy="1393" r="3.3"/><circle cx="336" cy="1410" r="3.3"/><circle cx="348" cy="1425" r="3.3"/><circle cx="396" cy="1385" r="3.3"/><circle cx="408" cy="1385" r="3.3"/><circle cx="398" cy="1410" r="3.3"/><circle cx="412" cy="1418" r="3.3"/><circle cx="392" cy="1430" r="3.3"/><circle cx="404" cy="1440" r="3.3"/><circle cx="400" cy="1472" r="3.3"/></g>
<path d="M343,1325 L343,1318 L402,1318 L402,1380" class="a" stroke-width="1"/>
<text x="378" y="1313" class="t" text-anchor="middle"><tspan class="i">P</tspan>=0.0400</text>
<g class="a"><line x1="343" y1="1497" x2="343" y2="1503"/><line x1="402" y1="1497" x2="402" y2="1503"/></g>
<g class="t" text-anchor="middle"><text x="343" y="1516">HFD</text><text x="343" y="1531">PBS</text><text x="402" y="1516">HFD</text><text x="402" y="1531" class="i">P.goldsteinii</text></g>

<!-- ===== r ===== -->
<text x="486" y="1275" class="pl">r</text>
<path d="M548,1300 L548,1497 L668,1497" class="a"/>
<g class="t" text-anchor="end"><text x="542" y="1501">0.0</text><text x="542" y="1452">0.5</text><text x="542" y="1403">1.0</text><text x="542" y="1353">1.5</text><text x="542" y="1304">2.0</text></g>
<g class="a"><line x1="544" y1="1448" x2="548" y2="1448"/><line x1="544" y1="1399" x2="548" y2="1399"/><line x1="544" y1="1349" x2="548" y2="1349"/><line x1="544" y1="1300" x2="548" y2="1300"/></g>
<text transform="translate(505,1398) rotate(-90)" class="ax" text-anchor="middle">HOMA-IR</text>
<rect x="556" y="1398" width="45" height="99" fill="#fa7f7f"/><rect x="620" y="1421" width="37" height="76" fill="#5656f5"/>
<path d="M578,1398 L578,1376 M570,1376 L586,1376 M638,1421 L638,1410 M630,1410 L646,1410" stroke="#000"/>
<g class="wd"><circle cx="578" cy="1348" r="3.3"/><circle cx="568" cy="1392" r="3.3"/><circle cx="586" cy="1396" r="3.3"/><circle cx="574" cy="1404" r="3.3"/><circle cx="590" cy="1410" r="3.3"/><circle cx="566" cy="1420" r="3.3"/><circle cx="582" cy="1428" r="3.3"/><circle cx="630" cy="1408" r="3.3"/><circle cx="644" cy="1408" r="3.3"/><circle cx="636" cy="1418" r="3.3"/><circle cx="626" cy="1425" r="3.3"/><circle cx="650" cy="1422" r="3.3"/><circle cx="632" cy="1432" r="3.3"/><circle cx="646" cy="1432" r="3.3"/></g>
<path d="M578,1340 L578,1333 L638,1333 L638,1400" class="a" stroke-width="1"/>
<text x="612" y="1330" class="t" text-anchor="middle"><tspan class="i">P</tspan>=0.0304</text>
<g class="a"><line x1="578" y1="1497" x2="578" y2="1503"/><line x1="638" y1="1497" x2="638" y2="1503"/></g>
<g class="t" text-anchor="middle"><text x="578" y="1516">HFD</text><text x="578" y="1531">PBS</text><text x="638" y="1516">HFD</text><text x="638" y="1531" class="i">P.goldsteinii</text></g>

<!-- ===== s ===== -->
<text x="724" y="1275" class="pl">s</text>
<circle cx="764" cy="1298" r="4.5" fill="#fa7f7f"/><text x="772" y="1302" class="t">HFD+PBS</text>
<circle cx="845" cy="1298" r="4.5" fill="#5656f5"/><text x="853" y="1302" class="t">HFD+<tspan class="i">P.goldsteinii</tspan></text>
<path d="M780,1315 L780,1497 L990,1497" class="a"/>
<g class="t" text-anchor="end"><text x="774" y="1501">0.0</text><text x="774" y="1456">0.4</text><text x="774" y="1410">0.8</text><text x="774" y="1365">1.2</text><text x="774" y="1319">1.6</text></g>
<g class="a"><line x1="776" y1="1452" x2="780" y2="1452"/><line x1="776" y1="1406" x2="780" y2="1406"/><line x1="776" y1="1361" x2="780" y2="1361"/><line x1="776" y1="1315" x2="780" y2="1315"/></g>
<text transform="translate(745,1406) rotate(-90)" class="ax" text-anchor="middle">Weight of tissue (g)</text>
<rect x="796" y="1365" width="28" height="132" fill="#fa7f7f"/><rect x="837" y="1387" width="28" height="110" fill="#5656f5"/>
<rect x="903" y="1395" width="28" height="102" fill="#fa7f7f"/><rect x="943" y="1428" width="26" height="69" fill="#5656f5"/>
<path d="M810,1365 L810,1352 M802,1352 L818,1352 M851,1387 L851,1378 M843,1378 L859,1378 M917,1395 L917,1360 M909,1360 L925,1360 M956,1428 L956,1418 M948,1418 L964,1418" stroke="#000"/>
<g class="wd"><circle cx="810" cy="1338" r="3.3"/><circle cx="804" cy="1360" r="3.3"/><circle cx="816" cy="1362" r="3.3"/><circle cx="802" cy="1372" r="3.3"/><circle cx="810" cy="1374" r="3.3"/><circle cx="818" cy="1375" r="3.3"/><circle cx="845" cy="1378" r="3.3"/><circle cx="858" cy="1380" r="3.3"/><circle cx="851" cy="1388" r="3.3"/><circle cx="844" cy="1395" r="3.3"/><circle cx="858" cy="1394" r="3.3"/><circle cx="851" cy="1404" r="3.3"/>
<circle cx="914" cy="1324" r="3.3"/><circle cx="920" cy="1382" r="3.3"/><circle cx="910" cy="1397" r="3.3"/><circle cx="924" cy="1402" r="3.3"/><circle cx="912" cy="1412" r="3.3"/><circle cx="920" cy="1420" r="3.3"/><circle cx="926" cy="1422" r="3.3"/><circle cx="950" cy="1420" r="3.3"/><circle cx="962" cy="1422" r="3.3"/><circle cx="950" cy="1435" r="3.3"/><circle cx="962" cy="1436" r="3.3"/><circle cx="956" cy="1455" r="3.3"/></g>
<path d="M810,1332 L810,1325 L851,1325 L851,1370 M917,1318 L917,1311 L956,1311 L956,1410" class="a" stroke-width="1"/>
<text x="832" y="1321" class="t" text-anchor="middle"><tspan class="i">P</tspan>=0.0051</text>
<text x="936" y="1320" class="t" text-anchor="middle"><tspan class="i">P</tspan>=0.0318</text>
<g class="a"><line x1="830" y1="1497" x2="830" y2="1503"/><line x1="936" y1="1497" x2="936" y2="1503"/></g>
<text x="830" y="1532" class="ax" text-anchor="middle">Liver</text><text x="936" y="1532" class="ax" text-anchor="middle">eWAT</text>

<!-- ===== t ===== -->
<text x="1034" y="1275" class="pl">t</text>
<text x="1130" y="1313" class="t" text-anchor="middle">HFD+PBS</text>
<text x="1266" y="1313" class="t" text-anchor="middle">HFD+<tspan class="i">P.goldsteinii</tspan></text>
<line x1="1047" y1="1320" x2="1047" y2="1528" stroke="#000" stroke-width="1.2"/>
<text transform="translate(1043,1424) rotate(-90)" class="ax" text-anchor="middle">H&amp;E of eWAT</text>
<rect x="1057" y="1322" width="138" height="98" fill="#dfe5e2"/>
<rect x="1202" y="1322" width="138" height="98" fill="#dfe5e2"/>
<rect x="1057" y="1427" width="138" height="101" fill="#dcdcd4"/>
<rect x="1202" y="1427" width="138" height="101" fill="#dcdcd4"/>
<g fill="none" stroke="#d9a2c4" stroke-width=".9">
<circle cx="1080" cy="1345" r="16"/><circle cx="1115" cy="1340" r="15"/><circle cx="1150" cy="1350" r="18"/><circle cx="1180" cy="1345" r="13"/><circle cx="1075" cy="1390" r="17"/><circle cx="1118" cy="1385" r="20"/><circle cx="1160" cy="1395" r="16"/><circle cx="1185" cy="1395" r="10"/>
<circle cx="1215" cy="1335" r="9"/><circle cx="1235" cy="1340" r="9"/><circle cx="1255" cy="1335" r="10"/><circle cx="1278" cy="1340" r="9"/><circle cx="1300" cy="1335" r="10"/><circle cx="1325" cy="1340" r="10"/><circle cx="1215" cy="1360" r="10"/><circle cx="1240" cy="1365" r="11"/><circle cx="1265" cy="1360" r="10"/><circle cx="1290" cy="1365" r="11"/><circle cx="1318" cy="1362" r="10"/><circle cx="1215" cy="1390" r="10"/><circle cx="1240" cy="1395" r="12"/><circle cx="1268" cy="1390" r="11"/><circle cx="1295" cy="1395" r="11"/><circle cx="1325" cy="1392" r="10"/><circle cx="1225" cy="1412" r="7"/><circle cx="1260" cy="1413" r="7"/>
<circle cx="1085" cy="1460" r="28"/><circle cx="1150" cy="1490" r="35"/><circle cx="1170" cy="1445" r="20"/><circle cx="1080" cy="1510" r="18"/>
<circle cx="1230" cy="1450" r="20"/><circle cx="1280" cy="1445" r="18"/><circle cx="1320" cy="1450" r="17"/><circle cx="1225" cy="1500" r="20"/><circle cx="1270" cy="1495" r="22"/><circle cx="1318" cy="1500" r="18"/>
</g>
<line x1="1302" y1="1405" x2="1336" y2="1405" stroke="#000" stroke-width="1.5"/><text x="1298" y="1421" class="t">100μm</text>
<line x1="1307" y1="1510" x2="1336" y2="1510" stroke="#000" stroke-width="1.5"/><text x="1305" y="1526" class="t">50μm</text>
<path d="M1425,1300 L1425,1497 L1540,1497" class="a"/>
<g class="t" text-anchor="end"><text x="1419" y="1501">0</text><text x="1419" y="1462">500</text><text x="1419" y="1422">1000</text><text x="1419" y="1383">1500</text><text x="1419" y="1344">2000</text><text x="1419" y="1304">2500</text></g>
<g class="a"><line x1="1421" y1="1458" x2="1425" y2="1458"/><line x1="1421" y1="1418" x2="1425" y2="1418"/><line x1="1421" y1="1379" x2="1425" y2="1379"/><line x1="1421" y1="1340" x2="1425" y2="1340"/><line x1="1421" y1="1300" x2="1425" y2="1300"/></g>
<text transform="translate(1378,1398) rotate(-90)" class="ax" text-anchor="middle">The area of fat cells (μm<tspan dy="-5" font-size="9">2</tspan><tspan dy="5">)</tspan></text>
<rect x="1436" y="1345" width="37" height="152" fill="#fa7f7f"/><rect x="1490" y="1398" width="37" height="99" fill="#5656f5"/>
<path d="M1455,1345 L1455,1337 M1447,1337 L1463,1337 M1508,1398 L1508,1387 M1500,1387 L1516,1387" stroke="#000"/>
<g class="wd"><circle cx="1446" cy="1334" r="3.3"/><circle cx="1455" cy="1340" r="3.3"/><circle cx="1464" cy="1343" r="3.3"/><circle cx="1448" cy="1348" r="3.3"/><circle cx="1460" cy="1356" r="3.3"/><circle cx="1510" cy="1384" r="3.3"/><circle cx="1506" cy="1393" r="3.3"/><circle cx="1514" cy="1400" r="3.3"/><circle cx="1504" cy="1406" r="3.3"/><circle cx="1512" cy="1412" r="3.3"/></g>
<path d="M1455,1328 L1455,1318 L1508,1318 L1508,1380" class="a" stroke-width="1"/>
<text x="1483" y="1315" class="t" text-anchor="middle"><tspan class="i">P</tspan>＜0.0001</text>
<g class="a"><line x1="1455" y1="1497" x2="1455" y2="1503"/><line x1="1508" y1="1497" x2="1508" y2="1503"/></g>
<g class="t" text-anchor="middle"><text x="1455" y="1516">HFD</text><text x="1455" y="1531">PBS</text><text x="1508" y="1516">HFD</text><text x="1508" y="1531" class="i">P.goldsteinii</text></g>
</svg>
</body></html>
